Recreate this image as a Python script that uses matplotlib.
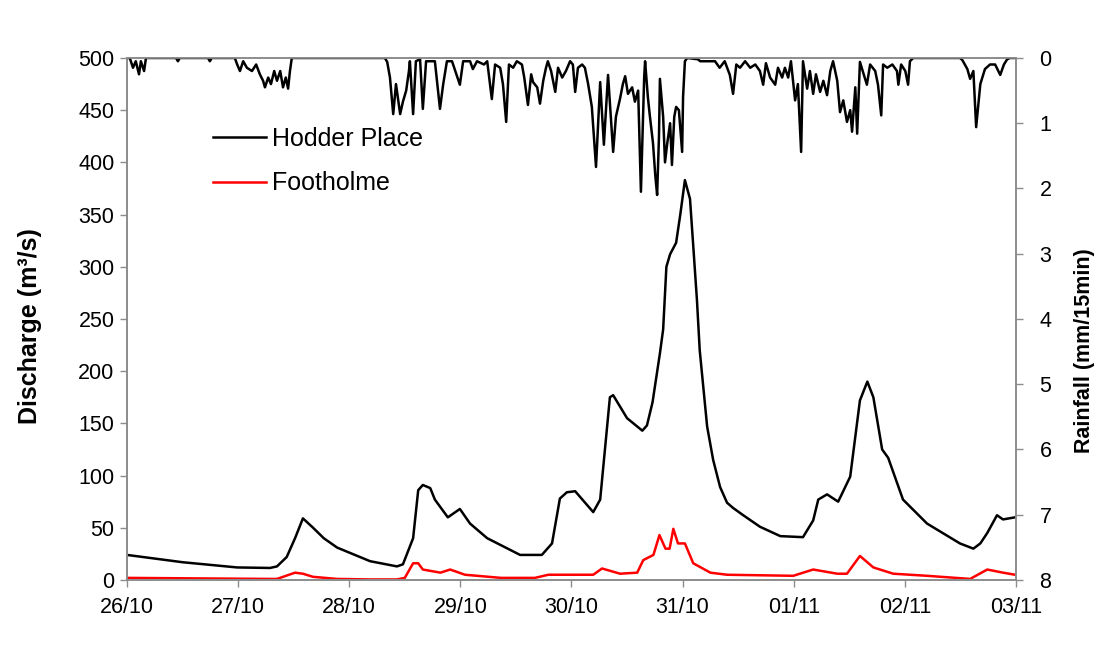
import pandas as pd
import matplotlib
matplotlib.use("Agg")
import matplotlib.pyplot as plt
import matplotlib.dates as mdates

plt.rcParams['font.family'] = ['Liberation Sans', 'DejaVu Sans']

start = pd.Timestamp('2008-10-26')

# discharge series, hours after 26/10 00:00
hodder_hours = [0, 12, 23.8, 30.9, 32.4, 34.5, 36.3, 38.0, 40.2, 42.5, 45.4, 52.5, 58.3, 59.6,
                61.8, 62.9, 63.9, 65.5, 66.5, 69.3, 71.9, 74.1, 77.8, 84.9, 89.6, 91.8, 93.5,
                95.0, 96.8, 100.7, 102.2, 104.3, 105.0, 108.0, 111.3, 112.3, 113.5, 115.1,
                115.8, 116.5, 117.3, 118.6, 119.5, 120.5, 121.6, 122.3, 123.1, 123.7, 125.3,
                126.6, 128.1, 129.6, 130.9, 133.1, 136.7, 141.1, 146.0, 148.2, 149.3, 151.2,
                153.6, 156.2, 158.3, 159.9, 161.2, 163.1, 164.4, 167.6, 172.8, 179.9, 182.8,
                184.3, 185.8, 187.9, 189.2, 191.8]
hodder_q = [24, 17, 12, 11.5, 13, 22, 40, 59, 50, 40, 31, 18, 13, 15,
            40, 86, 91, 88, 77, 60, 68, 54, 40, 24, 24, 35, 78,
            84, 85, 65, 77, 175, 177, 155, 143, 148, 170, 217,
            240, 300, 312, 323, 350, 383, 365, 320, 268, 220, 147,
            115, 89, 74, 69, 62, 51, 42, 41, 57, 77, 82,
            75, 99, 172, 190, 175, 125, 117, 77, 54, 35, 30,
            35, 45, 62, 58, 60]

foot_hours = [0, 31, 32.4, 36.3, 38, 40.2, 45.4, 52.5, 58.3, 60, 61.8, 62.9, 63.9, 67.7,
              69.8, 73.0, 80.8, 88.1, 91.0, 93.5, 100.7, 102.6, 106.5, 110.2, 111.5, 113.7,
              115.0, 116.3, 117.2, 118.0, 119.0, 120.5, 122.3, 126.0, 129.6, 143.9, 148.2,
              153.4, 155.5, 158.3, 161.2, 165.5, 172.8, 182.1, 185.8, 189.2, 191.8]
foot_q = [2, 1, 1, 7, 6, 3, 1, 0.5, 0.5, 2, 16, 16, 10, 7,
          10, 5, 2, 2, 5, 5, 5, 11, 6, 7, 19, 24,
          43, 30, 30, 49, 35, 35, 16, 7, 5, 4, 10,
          6, 6, 23, 12, 6, 4, 1, 10, 7, 5]

# rainfall, hours after 26/10 00:00 and mm per 15 min
rain_hours = [0, 0.6, 1.3, 1.9, 2.6, 3.0, 3.7, 4.1, 10.6, 11.0, 11.4, 17.5, 17.9, 18.3,
              23.3, 23.8, 24.4, 25.1, 25.9, 27.0, 27.9, 28.7, 29.4, 29.8, 30.5, 31.1, 31.8,
              32.4, 33.1, 33.7, 34.3, 34.8, 35.2, 35.6,
              55.7, 56.2, 56.8, 57.5, 58.1, 58.5, 59.0, 59.6, 60.3, 60.9, 61.1, 61.8, 62.4,
              63.3, 63.9, 64.6, 66.5, 67.6, 68.3, 69.1, 70.2, 71.9, 72.6, 74.1, 74.7, 75.6,
              77.1, 77.8, 78.8, 79.5, 80.6, 81.2, 81.9, 82.5, 83.4, 84.2, 85.3, 85.8, 86.6,
              87.3, 87.7, 88.6, 89.2, 89.9, 90.5, 90.9, 91.6, 92.5, 93.1, 94.0, 94.8, 95.7,
              96.3, 96.8, 97.4, 98.3, 98.9, 99.6, 100.4, 101.3, 102.2, 103.0, 103.9, 105.0,
              105.6, 106.5, 107.1, 107.6, 108.2, 109.1, 109.7, 110.4, 111.0, 111.7, 111.9,
              112.5, 112.9, 113.6, 114.1, 114.5, 114.9, 115.1, 115.8, 116.2, 116.7, 117.3,
              117.7, 118.2, 118.6, 119.2, 119.9, 120.1, 120.5, 121.0,
              123.3, 123.8, 124.8, 125.9, 127.0, 128.0, 129.1, 130.2, 130.9, 131.6, 132.4,
              133.5, 134.6, 135.7, 136.7, 137.4, 138.0, 138.9, 140.0, 140.6, 141.5, 142.1,
              142.8, 143.4, 144.3, 144.9, 145.6, 146.0, 146.9, 147.5, 148.2, 148.8, 149.7,
              150.4, 151.2, 151.9, 152.5, 153.4, 154.0, 154.7, 155.5, 156.2, 156.6, 157.3,
              157.7, 158.3, 158.9, 159.8, 160.5, 161.6, 162.2, 162.9, 163.3, 164.2, 165.3,
              166.3, 166.6, 167.2, 168.1, 168.7, 169.1, 169.8,
              179.9, 180.4, 181.5, 182.1, 182.8, 183.4, 184.3, 185.3, 186.4, 187.5, 188.6,
              189.4, 190.1, 190.7, 192]
rain_mm = [0, 0, 0.15, 0.05, 0.25, 0.05, 0.2, 0, 0, 0.05, 0, 0, 0.05, 0,
           0, 0.1, 0.2, 0.05, 0.15, 0.2, 0.1, 0.25, 0.35, 0.45, 0.3, 0.4, 0.2,
           0.35, 0.2, 0.45, 0.3, 0.47, 0.2, 0,
           0, 0.06, 0.3, 0.86, 0.4, 0.6, 0.86, 0.67, 0.5, 0.2, 0.05, 0.86, 0.05,
           0.02, 0.78, 0.05, 0.05, 0.78, 0.4, 0.05, 0.05, 0.41, 0.05, 0.05, 0.17, 0.05,
           0.1, 0.05, 0.63, 0.1, 0.15, 0.4, 0.98, 0.1, 0.15, 0.05, 0.1, 0.3, 0.72,
           0.25, 0.37, 0.45, 0.7, 0.35, 0.15, 0.05, 0.2, 0.52, 0.15, 0.3, 0.2, 0.05,
           0.1, 0.52, 0.15, 0.1, 0.15, 0.4, 0.75, 1.67, 0.37, 1.33, 0.26, 1.44,
           0.9, 0.62, 0.4, 0.28, 0.55, 0.45, 0.67, 0.5, 2.05, 0.3, 0.05,
           0.6, 0.87, 1.3, 1.8, 2.1, 1.2, 0.32, 0.9, 1.6, 1.3, 1.0,
           1.64, 0.9, 0.75, 0.8, 1.44, 0.6, 0.05, 0,
           0.02, 0.05, 0.05, 0.05, 0.05, 0.15, 0.05, 0.26, 0.55, 0.1, 0.15,
           0.05, 0.15, 0.1, 0.2, 0.41, 0.08, 0.3, 0.41, 0.15, 0.3, 0.15,
           0.3, 0.05, 0.65, 0.4, 1.44, 0.05, 0.47, 0.2, 0.55, 0.25, 0.52,
           0.35, 0.57, 0.2, 0.05, 0.35, 0.83, 0.65, 0.98, 0.8, 1.13, 0.45,
           1.16, 0.06, 0.2, 0.41, 0.1, 0.2, 0.41, 0.88, 0.1, 0.15, 0.1,
           0.2, 0.41, 0.1, 0.2, 0.41, 0.05, 0,
           0, 0.03, 0.17, 0.32, 0.2, 1.06, 0.4, 0.17, 0.1, 0.1, 0.26,
           0.1, 0.02, 0, 0]

date_ticks = pd.date_range(start, periods=9, freq='D')


def to_time(hours):
    return start + pd.to_timedelta(hours, unit='h')


grey = '#8c8c8c'

fig = plt.figure(figsize=(11.06, 6.47), dpi=100)
ax = fig.add_axes([0.1148, 0.1036, 0.8038, 0.8068])

ax.plot(to_time(hodder_hours), hodder_q, color='black', lw=1.8, label='Hodder Place')
ax.plot(to_time(foot_hours), foot_q, color='#ff0000', lw=1.8, label='Footholme')

ax.set_xlim(date_ticks[0], date_ticks[-1])
ax.set_ylim(0, 500)
ax.set_yticks(range(0, 501, 50))
ax.set_xticks(date_ticks)
ax.xaxis.set_major_formatter(mdates.DateFormatter('%d/%m'))
ax.set_ylabel('Discharge (m³/s)', fontsize=18, fontweight='bold', labelpad=26)
ax.yaxis.label.set_y(0.487)

# rainfall hangs from the top on an inverted right axis
ax2 = ax.twinx()
ax2.plot(to_time(rain_hours), rain_mm, color='black', lw=1.8)
ax2.set_ylim(8, 0)
ax2.set_yticks(range(0, 9))
ax2.set_xlim(date_ticks[0], date_ticks[-1])
ax2.set_ylabel('Rainfall (mm/15min)', fontsize=15.5, fontweight='bold', labelpad=16)
ax2.yaxis.label.set_y(0.44)

for a in (ax, ax2):
    for s in a.spines.values():
        s.set_color(grey)
        s.set_linewidth(1.2)
    a.tick_params(axis='both', direction='out', length=5, width=1, color=grey,
                  labelsize=15.5, labelcolor='black')
ax.tick_params(axis='x', pad=7)
ax.tick_params(axis='y', pad=4)
ax2.tick_params(axis='y', pad=12)

leg = ax.legend(loc='upper left', bbox_to_anchor=(0.097, 0.868), frameon=False,
                fontsize=18, handlelength=2.1, labelspacing=0.82, handletextpad=0.25,
                borderpad=0, borderaxespad=0)
for line in leg.get_lines():
    line.set_linewidth(1.8)

fig.savefig('out.png', dpi=100)
